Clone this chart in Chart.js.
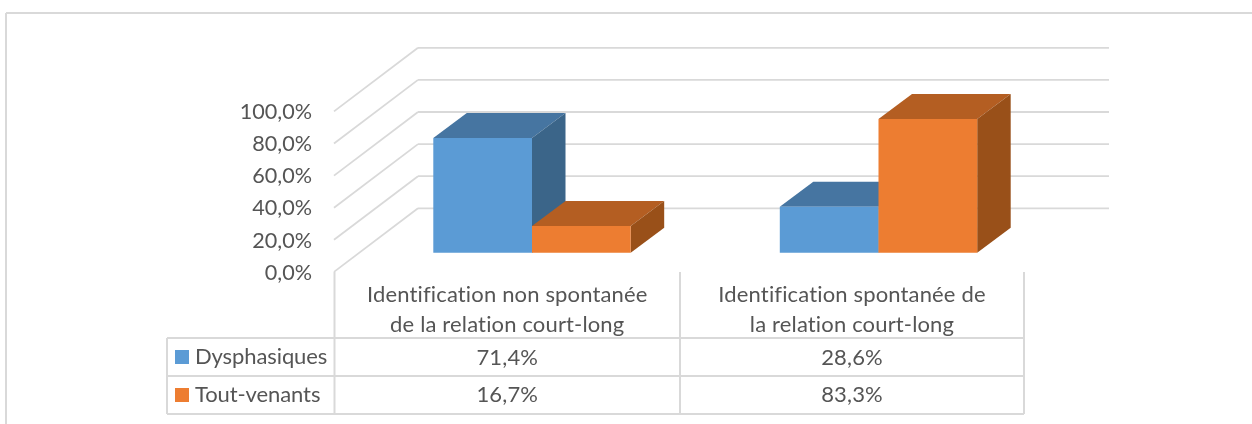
<!DOCTYPE html>
<html>
<head>
<meta charset="utf-8">
<title>Identification de la relation court-long</title>
<script src="https://cdn.jsdelivr.net/npm/chart.js@4"></script>
<style>
  html, body { margin: 0; padding: 0; background: #fff; overflow: hidden; }
  #wrap { width: 1252px; height: 424px; }
</style>
</head>
<body>
<div id="wrap"><canvas id="mainChart"></canvas></div>
<script>
// data
const categories = [
    ['Identification non spontanée', 'de la relation court-long'],
    ['Identification spontanée de', 'la relation court-long']
];
const seriesNames = ['Dysphasiques', 'Tout-venants'];
const dysphasiques = [71.4, 28.6];
const toutVenants = [16.7, 83.3];
const yTicks = [0, 20, 40, 60, 80, 100];

const grey = '#D9D9D9';
const textColor = '#555555';
const font = '"Lato", sans-serif';
const fontSize = 22;

// 3D look
const barDepth = { x: 33.5, y: 25 };
const wallBack = { x: 418, right: 1109, dy: -44.4 };
const wallFront = { x: 334, dy: 19.2 };
const faces = [
    { front: '#5B9BD5', top: '#4675A1', side: '#3B6589' },
    { front: '#ED7D31', top: '#B45E22', side: '#995019' }
];

const fmt = (v) => v.toFixed(1).replace('.', ',') + '%';

function poly(ctx, pts, fill) {
    ctx.fillStyle = fill;
    ctx.beginPath();
    pts.forEach((p, i) => i ? ctx.lineTo(p[0], p[1]) : ctx.moveTo(p[0], p[1]));
    ctx.closePath();
    ctx.fill();
}

function line(ctx, x1, y1, x2, y2) {
    ctx.beginPath();
    ctx.moveTo(x1, y1);
    ctx.lineTo(x2, y2);
    ctx.stroke();
}

const threeD = {
    id: 'threeD',
    beforeDraw(chart) {
        const ctx = chart.ctx;
        const y = chart.scales.y;
        ctx.save();
        ctx.strokeStyle = grey;

        // cadre
        ctx.lineWidth = 2;
        line(ctx, 6, 13, 1252, 13);
        line(ctx, 6, 13, 6, 424);

        // murs
        ctx.lineWidth = 1.8;
        yTicks.forEach((t) => {
            const py = y.getPixelForValue(t);
            line(ctx, wallFront.x, py + wallFront.dy, wallBack.x, py + wallBack.dy);
            line(ctx, wallBack.x, py + wallBack.dy, wallBack.right, py + wallBack.dy);
        });
        ctx.restore();
    },
    beforeDatasetsDraw(chart) {
        const ctx = chart.ctx;
        // orange par-dessus bleu, donc ordre normal des series
        chart.data.datasets.forEach((ds, i) => {
            const meta = chart.getDatasetMeta(i);
            meta.data.forEach((bar) => {
                const { x, y, base, width } = bar.getProps(['x', 'y', 'base', 'width'], true);
                const l = x - width / 2;
                const r = x + width / 2;
                const dx = barDepth.x;
                const dy = barDepth.y;
                poly(ctx, [[l, y], [l + dx, y - dy], [r + dx, y - dy], [r, y]], faces[i].top);
                poly(ctx, [[r, y], [r + dx, y - dy], [r + dx, base - dy], [r, base]], faces[i].side);
            });
            meta.controller.draw();
        });
        return false;
    },
    afterDraw(chart) {
        const ctx = chart.ctx;
        const colEdges = [334.5, 680, 1024];
        const tableLeft = 167;
        const tableTop = 272;
        const rowLines = [338, 376, 414];

        ctx.save();
        ctx.strokeStyle = grey;
        ctx.lineWidth = 2;
        colEdges.forEach((cx) => line(ctx, cx, tableTop, cx, rowLines[2]));
        rowLines.forEach((ry) => line(ctx, tableLeft, ry, colEdges[2], ry));
        line(ctx, tableLeft, rowLines[0], tableLeft, rowLines[2]);

        ctx.fillStyle = textColor;
        ctx.font = fontSize + 'px ' + font;
        ctx.textBaseline = 'middle';
        ctx.textAlign = 'center';
        ctx.letterSpacing = '0.15px';
        categories.forEach((lines, i) => {
            const cx = (colEdges[i] + colEdges[i + 1]) / 2;
            ctx.fillText(lines[0], cx, 295);
            ctx.fillText(lines[1], cx, 325);
            ctx.fillText(fmt(dysphasiques[i]), cx, 358);
            ctx.fillText(fmt(toutVenants[i]), cx, 395);
        });

        ctx.textAlign = 'left';
        ctx.letterSpacing = '-0.1px';
        seriesNames.forEach((name, i) => {
            const cy = [(rowLines[0] + rowLines[1]) / 2, (rowLines[1] + rowLines[2]) / 2][i];
            ctx.fillStyle = faces[i].front;
            ctx.fillRect(175, cy - 7, 14, 14);
            ctx.fillStyle = textColor;
            ctx.fillText(name, 195, cy);
        });
        ctx.restore();
    }
};

document.addEventListener('DOMContentLoaded', () => {
    const ctx = document.getElementById('mainChart').getContext('2d');

    new Chart(ctx, {
        type: 'bar',
        data: {
            labels: categories,
            datasets: [
                { label: seriesNames[0], data: dysphasiques, backgroundColor: faces[0].front },
                { label: seriesNames[1], data: toutVenants, backgroundColor: faces[1].front }
            ]
        },
        options: {
            responsive: true,
            maintainAspectRatio: false,
            animation: false,
            events: [],
            layout: { padding: { top: 92.2, right: 200.25, bottom: 171.3, left: 0 } },
            datasets: { bar: { barPercentage: 1, categoryPercentage: 0.5697 } },
            plugins: { legend: { display: false }, tooltip: { enabled: false } },
            scales: {
                x: { display: false },
                y: {
                    min: 0,
                    max: 100,
                    afterFit: (s) => { s.width = 358.75; },
                    afterBuildTicks: (s) => { s.ticks = yTicks.map((v) => ({ value: v })); },
                    grid: { display: false, drawTicks: false },
                    border: { display: false },
                    ticks: {
                        padding: 46.75,
                        labelOffset: 20,
                        color: textColor,
                        font: { family: font, size: 21.6 },
                        callback: (v) => fmt(v)
                    }
                }
            }
        },
        plugins: [threeD]
    });
});
</script>
</body>
</html>
